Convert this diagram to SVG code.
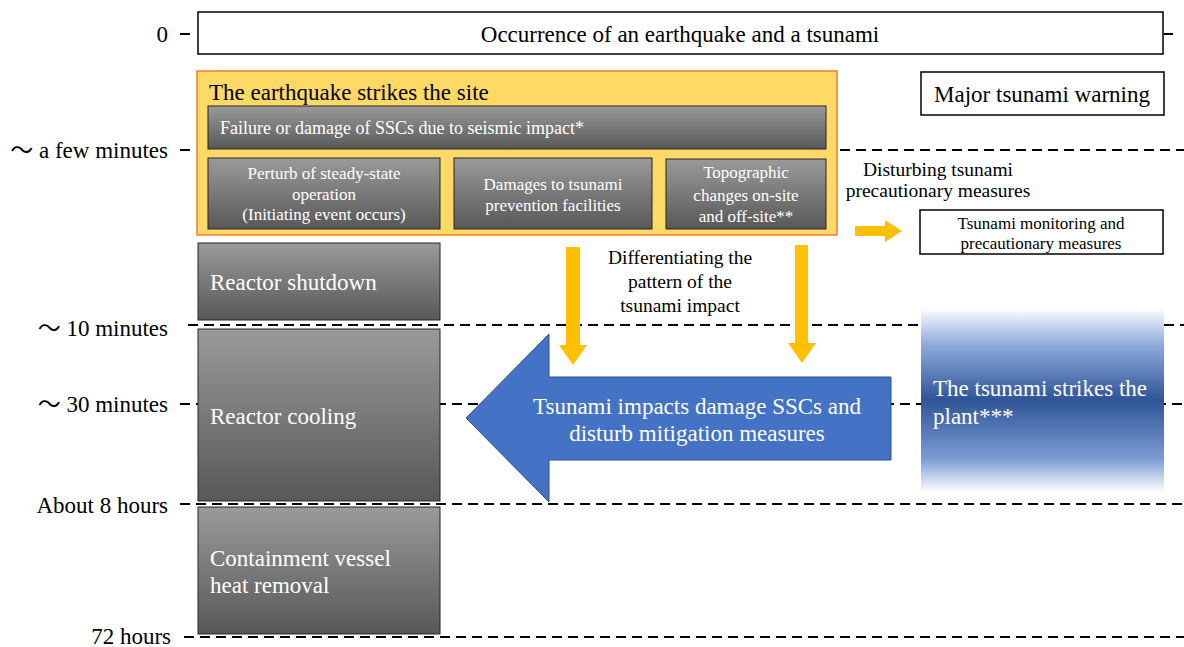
<svg xmlns="http://www.w3.org/2000/svg" width="1184" height="647" viewBox="0 0 1184 647">
<defs>
<linearGradient id="dark" x1="0" y1="0" x2="0" y2="1">
<stop offset="0" stop-color="#9a9a9a"/>
<stop offset="1" stop-color="#585858"/>
</linearGradient>
<linearGradient id="wave" x1="0" y1="0" x2="0" y2="1">
<stop offset="0" stop-color="#ffffff"/>
<stop offset="0.2" stop-color="#8eaadb"/>
<stop offset="0.5" stop-color="#2f5597"/>
<stop offset="0.82" stop-color="#7b9bd5"/>
<stop offset="1" stop-color="#ffffff"/>
</linearGradient>
</defs>
<style>
text{font-family:"Liberation Serif","Times New Roman","Noto Sans CJK JP",serif;}
.lbl{font-size:23px;fill:#000;text-anchor:end;}
.tick{stroke:#000;stroke-width:2;}
.dash{stroke:#000;stroke-width:2;stroke-dasharray:10 6;fill:none;}
.dk{fill:url(#dark);stroke:#262626;stroke-width:1;}
.wt{fill:#fff;}
.bx{fill:#fff;stroke:#000;stroke-width:1.5;}
.ya{fill:#ffc000;}
</style>
<rect width="1184" height="647" fill="#fff"/>

<g id="timeline">
<text class="lbl" x="168" y="42">0</text>
<line class="tick" x1="180" y1="34" x2="190" y2="34"/>
<line class="tick" x1="1164" y1="34" x2="1173" y2="34"/>
<text class="lbl" x="168" y="158">～ a few minutes</text>
<line class="tick" x1="180" y1="150" x2="190" y2="150"/>
<line class="dash" x1="840" y1="150" x2="1184" y2="150"/>
<text class="lbl" x="168" y="336">～ 10 minutes</text>
<line class="dash" x1="188" y1="325" x2="1184" y2="325"/>
<text class="lbl" x="168" y="412">～ 30 minutes</text>
<line class="dash" x1="180" y1="404" x2="1184" y2="404"/>
<text class="lbl" x="168" y="513">About 8 hours</text>
<line class="dash" x1="180" y1="504" x2="1184" y2="504"/>
<text class="lbl" x="171" y="644">72 hours</text>
<line class="dash" x1="184" y1="637" x2="1184" y2="637"/>
</g>

<g id="occurrence">
<rect class="bx" x="198" y="12" width="965" height="42"/>
<text x="680" y="42" font-size="23" text-anchor="middle">Occurrence of an earthquake and a tsunami</text>
</g>

<g id="earthquake">
<rect x="197" y="71" width="640" height="164" fill="#ffd966" stroke="#ed7d31" stroke-width="1.5"/>
<text x="209" y="100" font-size="23">The earthquake strikes the site</text>
</g>
<g id="failure">
<rect class="dk" x="208" y="106" width="618" height="43"/>
<text class="wt" x="220" y="134" font-size="18">Failure or damage of SSCs due to seismic impact*</text>
</g>
<g id="perturb">
<rect class="dk" x="208" y="158" width="232" height="71"/>
<text class="wt" x="324" y="179" font-size="17" text-anchor="middle">Perturb of steady-state</text>
<text class="wt" x="324" y="200" font-size="17" text-anchor="middle">operation</text>
<text class="wt" x="324" y="220" font-size="17" text-anchor="middle">(Initiating event occurs)</text>
</g>
<g id="damages">
<rect class="dk" x="454" y="158" width="198" height="71"/>
<text class="wt" x="553" y="190" font-size="17" text-anchor="middle">Damages to tsunami</text>
<text class="wt" x="553" y="211" font-size="17" text-anchor="middle">prevention facilities</text>
</g>
<g id="topographic">
<rect class="dk" x="666" y="159" width="160" height="70"/>
<text class="wt" x="746" y="178" font-size="17" text-anchor="middle">Topographic</text>
<text class="wt" x="746" y="201" font-size="17" text-anchor="middle">changes on-site</text>
<text class="wt" x="746" y="222" font-size="17" text-anchor="middle">and off-site**</text>
</g>

<g id="warning">
<rect class="bx" x="921" y="72" width="243" height="43"/>
<text x="1042" y="102" font-size="23" text-anchor="middle">Major tsunami warning</text>
</g>

<g id="disturbing-label">
<text x="938" y="176" font-size="19.5" text-anchor="middle">Disturbing tsunami</text>
<text x="938" y="197" font-size="19.5" text-anchor="middle">precautionary measures</text>
</g>

<g id="monitoring">
<rect class="bx" x="920" y="210" width="243" height="44"/>
<text x="1041" y="229" font-size="17" text-anchor="middle">Tsunami monitoring and</text>
<text x="1041" y="249" font-size="17" text-anchor="middle">precautionary measures</text>
</g>

<g id="shutdown">
<rect class="dk" x="198" y="243" width="242" height="77"/>
<text class="wt" x="210" y="290" font-size="23">Reactor shutdown</text>
</g>
<g id="cooling">
<rect class="dk" x="198" y="329" width="242" height="172"/>
<text class="wt" x="210" y="424" font-size="23">Reactor cooling</text>
</g>
<g id="containment">
<rect class="dk" x="198" y="507" width="242" height="127"/>
<text class="wt" x="210" y="566" font-size="23">Containment vessel</text>
<text class="wt" x="210" y="593" font-size="23">heat removal</text>
</g>

<g id="diff-label">
<text x="680" y="264" font-size="19.5" text-anchor="middle">Differentiating the</text>
<text x="680" y="288" font-size="19.5" text-anchor="middle">pattern of the</text>
<text x="680" y="312" font-size="19.5" text-anchor="middle">tsunami impact</text>
</g>

<g id="tsunami-strikes">
<rect x="921" y="308" width="243" height="184" fill="url(#wave)"/>
<text class="wt" x="933" y="396" font-size="23">The tsunami strikes the</text>
<text class="wt" x="933" y="424" font-size="23">plant***</text>
</g>

<g id="connectors">
<polygon class="ya" points="566,247 580,247 580,345 587,345 573,365 559,345 566,345"/>
<polygon class="ya" points="795,245 808,245 808,343 816,343 802,363 788,343 795,343"/>
<polygon class="ya" points="855,226 885,226 885,220 902,231 885,242 885,236 855,236"/>
</g>

<g id="impact-arrow">
<polygon points="549,334 549,377 891,377 891,460 549,460 549,502 466,418" fill="#4472c4" stroke="#2f528f" stroke-width="1"/>
<text class="wt" x="697" y="414" font-size="23" text-anchor="middle">Tsunami impacts damage SSCs and</text>
<text class="wt" x="697" y="441" font-size="23" text-anchor="middle">disturb mitigation measures</text>
</g>
</svg>
